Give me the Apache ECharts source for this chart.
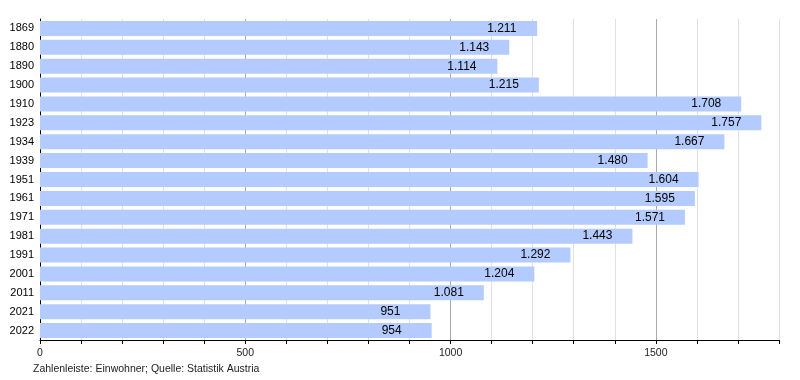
<!DOCTYPE html>
<html><head><meta charset="utf-8">
<script src="https://cdn.jsdelivr.net/npm/echarts@6/dist/echarts.min.js"></script>
<style>html,body{margin:0;padding:0;background:#fff}#c{width:800px;height:380px}</style>
</head><body><div id="c"></div>
<script>
const years = ['1869','1880','1890','1900','1910','1923','1934','1939','1951','1961','1971','1981','1991','2001','2011','2021','2022'];
const population = [1211,1143,1114,1215,1708,1757,1667,1480,1604,1595,1571,1443,1292,1204,1081,951,954];
const xTicks = [0,500,1000,1500];
const footer = 'Zahlenleiste: Einwohner; Quelle: Statistik Austria';

const fmt = v => v >= 1000 ? Math.floor(v/1000) + '.' + String(v%1000).padStart(3,'0') : String(v);
const chart = echarts.init(document.getElementById('c'), null, {renderer:'canvas'});
const font = 'Liberation Sans, Arial, sans-serif';
chart.setOption({
  animation:false,
  grid:{left:40, right:21, top:19, bottom:40, containLabel:false},
  graphic:[{type:'text', left:33, top:364, style:{text:footer, font:'10.5px '+font, fill:'#222'}}],
  xAxis:{type:'value', min:0, max:1800, interval:100,
    axisLine:{show:true, lineStyle:{color:'#000', width:1}},
    axisTick:{show:true, length:4, lineStyle:{color:'#000'}},
    axisLabel:{fontFamily:font, fontSize:10.5, color:'#222', margin:8,
      formatter: v => xTicks.includes(v) ? String(v) : ''},
    splitLine:{show:true, showMinLine:true, lineStyle:{color:['#aaa','#e0e0e0','#e0e0e0','#e0e0e0','#e0e0e0'], width:1}}
  },
  yAxis:{type:'category', data:years, inverse:true,
    axisLine:{show:true, lineStyle:{color:'#000'}},
    axisTick:{show:false},
    axisLabel:{fontFamily:font, fontSize:11, color:'#000', margin:6},
    splitLine:{show:false}
  },
  series:[{type:'bar', data:population, barWidth:15,
    itemStyle:{color:'#b3cbff'},
    label:{show:true, position:'insideRight', distance:50, align:'left',
      fontFamily:font, fontSize:12, color:'#000', formatter:p=>fmt(p.value)},
    z:3
  }]
});
</script></body></html>
